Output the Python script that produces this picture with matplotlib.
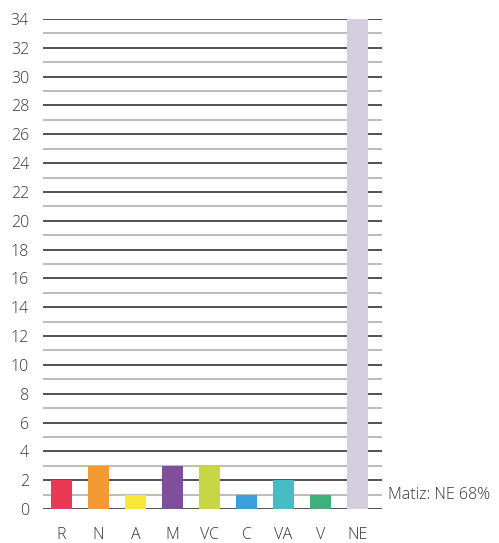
import matplotlib
matplotlib.use("Agg")
import matplotlib.pyplot as plt

categories = ["R", "N", "A", "M", "VC", "C", "VA", "V", "NE"]
counts = [2, 3, 1, 3, 3, 1, 2, 1, 34]
bar_colors = ["#e83a55", "#f39a35", "#f8e838", "#7f4f9c", "#c8d545",
              "#3aa0db", "#48bcc4", "#3faf7b", "#d5cede"]
y_ticks = list(range(0, 35, 2))
note = "Matiz: NE 68%"

plt.rcParams["font.family"] = ["Open Sans", "DejaVu Sans"]
FS = 11.5

fig = plt.figure(figsize=(4.99, 5.43), dpi=100)
ax = fig.add_axes([43 / 499, 34 / 543, 339 / 499, 490 / 543])

# horizontal rules: dark on even values, light grey on odd ones
for v in range(0, 35):
    ax.axhline(v, color="#222222" if v % 2 == 0 else "#aaaaaa",
               linewidth=1.1, zorder=1)

x = list(range(len(categories)))
ax.bar(x, counts, width=0.57, color=bar_colors, zorder=2)

ax.set_xlim(-0.5, 8.66)
ax.set_ylim(0, 34)
ax.set_yticks(y_ticks)
ax.set_yticklabels([str(t) for t in y_ticks], fontsize=FS, color="#333333",
                   fontweight="light")
ax.set_xticks(x)
ax.set_xticklabels(categories, fontsize=FS, color="#333333", fontweight="light")
ax.tick_params(axis="y", length=0, pad=10)
ax.tick_params(axis="x", length=0, pad=13)
for s in ax.spines.values():
    s.set_visible(False)

ax.text(8.82, 1.0, note, fontsize=FS, color="#333333", fontweight="light",
        va="center", ha="left", clip_on=False)

fig.savefig("out.png", dpi=100)
